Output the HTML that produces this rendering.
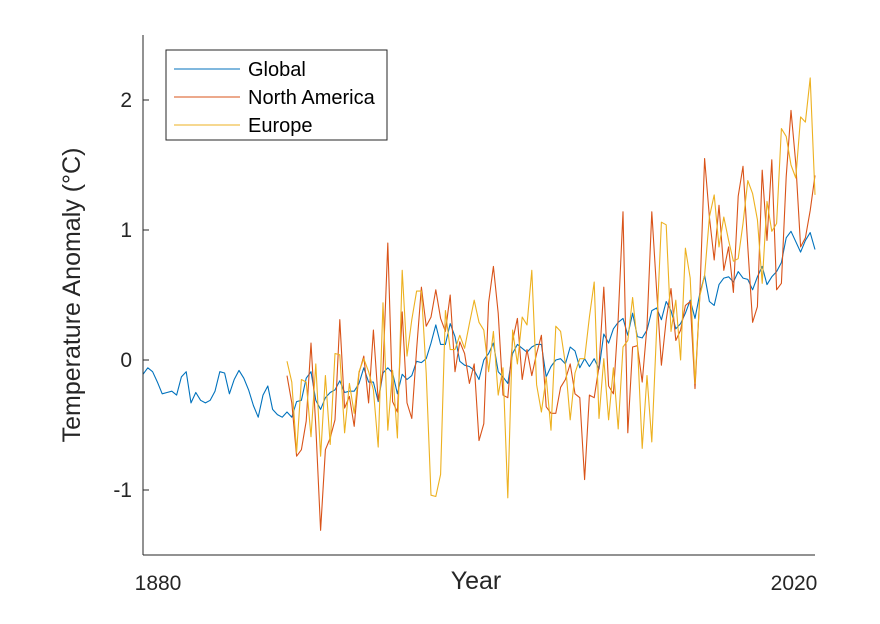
<!DOCTYPE html>
<html><head><meta charset="utf-8"><style>
body{margin:0;background:#fff;}
svg{display:block;font-family:"Liberation Sans",Arial,sans-serif;}
</style></head><body>
<svg id="chart" width="880" height="624" viewBox="0 0 880 624">
<g id="series"></g>
<line x1="143" y1="35" x2="143" y2="555" stroke="#262626" stroke-width="1"/>
<line x1="143" y1="555" x2="815" y2="555" stroke="#262626" stroke-width="1"/>
<g id="yticks"></g>
<text x="158" y="590" font-size="21" fill="#262626" text-anchor="middle">1880</text>
<text x="794" y="590" font-size="21" fill="#262626" text-anchor="middle">2020</text>
<text x="476" y="589" font-size="25" fill="#262626" text-anchor="middle">Year</text>
<text transform="translate(80,295) rotate(-90)" font-size="25" fill="#262626" text-anchor="middle">Temperature Anomaly (°C)</text>
<g>
<rect x="166" y="50" width="221" height="90" fill="#fff" stroke="#262626" stroke-width="1"/>
<line x1="174" y1="69" x2="240" y2="69" stroke="#0072BD"/>
<text x="248" y="76" font-size="20" fill="#000">Global</text>
<line x1="174" y1="97" x2="240" y2="97" stroke="#D95319"/>
<text x="248" y="104" font-size="20" fill="#000">North America</text>
<line x1="174" y1="125" x2="240" y2="125" stroke="#EDB120"/>
<text x="248" y="132" font-size="20" fill="#000">Europe</text>
</g>
</svg>
<script>
const globalStart = 1880;
const regionStart = 1910;
const yTicks = [-1, 0, 1, 2];
const yTickLabels = ["-1", "0", "1", "2"];
const globalVals = [-0.11,-0.06,-0.09,-0.17,-0.26,-0.25,-0.24,-0.27,-0.13,-0.09,-0.33,-0.25,-0.31,-0.33,-0.31,-0.24,-0.09,-0.10,-0.26,-0.15,-0.08,-0.14,-0.23,-0.35,-0.44,-0.27,-0.20,-0.38,-0.42,-0.44,-0.40,-0.44,-0.32,-0.31,-0.14,-0.09,-0.31,-0.38,-0.29,-0.25,-0.23,-0.16,-0.25,-0.24,-0.24,-0.18,-0.06,-0.17,-0.17,-0.32,
-0.10,-0.06,-0.10,-0.26,-0.11,-0.15,-0.12,-0.01,-0.02,0.01,0.13,0.27,0.12,0.12,0.28,0.18,-0.01,-0.04,-0.05,-0.08,-0.15,0.0,0.05,0.13,-0.09,-0.13,-0.18,0.05,0.12,0.09,0.06,0.10,0.12,0.12,-0.13,-0.05,0.0,0.01,-0.03,0.10,0.07,-0.06,0.01,
-0.05,0.01,-0.07,0.20,0.13,0.24,0.29,0.32,0.19,0.36,0.18,0.17,0.23,0.38,0.40,0.31,0.45,0.38,0.24,0.28,0.36,0.46,0.32,0.51,0.65,0.45,0.42,0.58,0.63,0.64,0.60,0.68,0.63,0.62,0.54,0.64,0.72,0.58,0.64,0.68,0.75,0.94,0.99,0.91,0.83,0.92,0.98,0.85];
const northAmericaVals = [-0.12,-0.33,-0.74,-0.69,-0.47,0.13,-0.51,-1.31,-0.69,-0.60,-0.46,0.31,-0.37,-0.28,-0.51,-0.10,0.03,-0.33,0.23,-0.31,
-0.08,0.90,-0.32,-0.40,0.37,-0.33,-0.45,0.08,0.56,0.26,0.33,0.54,0.32,0.22,0.50,-0.09,0.14,0.05,-0.18,-0.03,-0.62,-0.49,0.44,0.72,0.36,-0.27,-0.29,0.15,0.32,-0.15,0.08,-0.12,0.05,0.19,-0.36,-0.41,-0.41,-0.21,-0.15,-0.03,-0.26,-0.29,-0.92,
-0.27,-0.29,-0.05,0.56,-0.20,-0.26,0.32,1.14,-0.56,0.10,0.11,-0.17,0.26,1.14,0.54,-0.04,0.31,0.55,0.15,0.23,0.42,0.45,-0.22,0.49,1.55,1.10,0.77,1.19,0.69,0.87,0.52,1.26,1.49,0.87,0.29,0.41,1.46,0.92,1.54,0.54,0.59,1.41,1.92,1.51,0.87,0.94,1.15,1.42];
const europeVals = [-0.01,-0.17,-0.71,-0.15,-0.17,-0.59,-0.03,-0.74,-0.12,-0.65,0.05,0.04,-0.56,-0.18,-0.41,-0.09,0.01,-0.09,-0.23,-0.67,
0.44,-0.54,-0.08,-0.60,0.69,0.03,0.31,0.53,0.53,-0.10,-1.04,-1.05,-0.88,0.38,0.08,0.08,0.19,0.09,0.28,0.46,0.29,0.23,-0.09,0.22,-0.27,-0.06,-1.06,0.23,-0.03,0.33,0.27,0.69,-0.19,-0.40,-0.13,-0.54,0.26,0.22,-0.03,-0.46,-0.10,0.01,0.01,
0.33,0.60,-0.45,0.01,-0.46,-0.06,-0.53,0.10,0.15,0.48,0.13,-0.68,-0.12,-0.63,0.23,1.06,1.04,0.22,0.46,0.00,0.86,0.63,-0.18,0.49,0.65,1.10,1.27,0.87,1.10,0.92,0.76,0.78,1.05,1.38,1.28,1.08,0.59,1.22,0.99,1.05,1.78,1.72,1.50,1.40,1.87,1.83,2.17,1.27];

const X0 = 143, X1 = 815, Y0 = 555, Y1 = 35;
const xMin = 1880, xMax = 2020, yMin = -1.5, yMax = 2.5;
function xScale(yr){ return X0 + (yr - xMin) / (xMax - xMin) * (X1 - X0); }
function yScale(v){ return Y0 - (v - yMin) / (yMax - yMin) * (Y0 - Y1); }
const NS = "http://www.w3.org/2000/svg";
const g = document.getElementById("series");
function drawSeries(vals, start, color, name){
  const pts = vals.map((v,i)=>xScale(start+i).toFixed(2)+","+yScale(v).toFixed(2)).join(" ");
  const pl = document.createElementNS(NS,"polyline");
  pl.setAttribute("points", pts);
  pl.setAttribute("fill","none");
  pl.setAttribute("stroke",color);
  pl.setAttribute("stroke-width","1.1");
  pl.setAttribute("stroke-linejoin","round");
  
  
  g.appendChild(pl);
}
drawSeries(globalVals, globalStart, "#0072BD", "global-line");
drawSeries(northAmericaVals, regionStart, "#D95319", "north-america-line");
drawSeries(europeVals, regionStart, "#EDB120", "europe-line");

const yt = document.getElementById("yticks");
yTicks.forEach((t,i)=>{
  const y = yScale(t);
  const ln = document.createElementNS(NS,"line");
  ln.setAttribute("x1",143); ln.setAttribute("x2",149);
  ln.setAttribute("y1",y); ln.setAttribute("y2",y);
  ln.setAttribute("stroke","#262626");
  
  
  yt.appendChild(ln);
  const tx = document.createElementNS(NS,"text");
  tx.setAttribute("x",132); tx.setAttribute("y",y+7);
  tx.setAttribute("font-size","21"); tx.setAttribute("fill","#262626");
  tx.setAttribute("text-anchor","end");
  tx.textContent = yTickLabels[i];
  
  
  yt.appendChild(tx);
});
</script>
</body></html>
